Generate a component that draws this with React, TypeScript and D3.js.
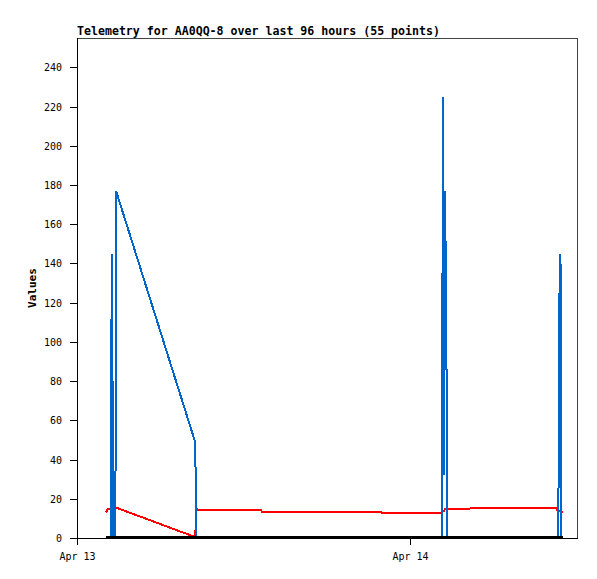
import React from "react";
import * as d3 from "d3";

const TITLE = "Telemetry for AA0QQ-8 over last 96 hours (55 points)";
const Y_LABEL = "Values";

const times: string[] = [
  "2024-04-13T02:05", "2024-04-13T02:14", "2024-04-13T02:27", "2024-04-13T02:30",
  "2024-04-13T02:34", "2024-04-13T02:37", "2024-04-13T02:46", "2024-04-13T02:49",
  "2024-04-13T08:31", "2024-04-13T08:34", "2024-04-13T08:37", "2024-04-13T08:41",
  "2024-04-13T13:16", "2024-04-13T13:20", "2024-04-13T21:55", "2024-04-13T21:59",
  "2024-04-14T02:17", "2024-04-14T02:20", "2024-04-14T02:24", "2024-04-14T02:28",
  "2024-04-14T02:32", "2024-04-14T02:38", "2024-04-14T02:41", "2024-04-14T10:34",
  "2024-04-14T10:38", "2024-04-14T10:42", "2024-04-14T10:44", "2024-04-14T10:51",
  "2024-04-14T10:53", "2024-04-14T11:02",
];

const blueValues: number[] = [
  0, 0, 0, 145, 73, 0, 0, 177, 49, 24.5, 0, 0, 0, 0, 0,
  0, 0, 112, 225, 32, 177, 88, 0, 0, 0, 0, 112, 145, 0, 0,
];

const redValues: number[] = [
  13, 14.8, 15, 15, 15.2, 15.2, 15.3, 15.5, 0.5, 7.6, 15, 14.2, 14.2, 13.3, 13.3,
  12.8, 12.8, 13.2, 13.6, 14, 14.8, 15, 15, 15.2, 13.8, 13.8, 13.6, 13.5, 13.5, 13.3,
];

const blackValues: number[] = times.map(() => 0);

const yTicks: number[] = [0, 20, 40, 60, 80, 100, 120, 140, 160, 180, 200, 220, 240];
const xTickDates: string[] = ["2024-04-13T00:00", "2024-04-14T00:00"];
const xTickLabels: string[] = ["Apr 13", "Apr 14"];

const W = 597;
const H = 579;
const L = 77, R = 577, T = 38, B = 538;

export default function App() {
  const parse = (s: string) => new Date(s);
  const start = parse("2024-04-13T00:00");
  const end = new Date(start.getTime() + 36.04 * 3600 * 1000);
  const x = d3.scaleTime().domain([start, end]).range([L, R]);
  const y = d3.scaleLinear().domain([0, 255]).range([B, T]);

  const mk = (vals: number[]) =>
    d3
      .line<number>()
      .x((_, i) => x(parse(times[i])))
      .y((v) => y(v))(vals) as string;

  const mono = "'DejaVu Sans Mono', 'Liberation Mono', monospace";

  return (
    <div style={{ position: "absolute", left: 0, top: 0 }}>
      <svg width={W} height={H} style={{ display: "block", background: "#fff" }}>
        <rect x={0} y={0} width={W} height={H} fill="#fff" />
        {/* frame */}
        <rect x={L + 0.5} y={T + 0.5} width={R - L} height={B - T} fill="none" stroke="#444" strokeWidth={1} shapeRendering="crispEdges" />
        {/* title */}
        <text x={L} y={35} fontFamily={mono} fontWeight="bold" fontSize={11.6} fill="#000">
          {TITLE}
        </text>
        {/* y label */}
        <text
          transform={`translate(35.5, ${(T + B) / 2}) rotate(-90)`}
          textAnchor="middle"
          fontFamily={mono}
          fontWeight="bold"
          fontSize={11}
          fill="#000"
        >
          {Y_LABEL}
        </text>
        {/* y ticks */}
        {yTicks.map((t) => (
          <g key={t}>
            <line x1={70} x2={L} y1={Math.round(y(t)) + 0.5} y2={Math.round(y(t)) + 0.5} stroke="#000" shapeRendering="crispEdges" />
            <text x={62} y={Math.round(y(t)) + 4} textAnchor="end" fontFamily={mono} fontSize={10} fill="#000">
              {t}
            </text>
          </g>
        ))}
        {/* x ticks */}
        {xTickDates.map((d, i) => {
          const px = Math.round(x(parse(d)));
          return (
            <g key={d}>
              <line x1={px + 0.5} x2={px + 0.5} y1={B} y2={B + 7} stroke="#000" shapeRendering="crispEdges" />
              <text x={px + 0.5} y={560} textAnchor="middle" fontFamily={mono} fontSize={10} fill="#000">
                {xTickLabels[i]}
              </text>
            </g>
          );
        })}
        {/* series */}
        <path d={mk(redValues)} fill="none" stroke="#ff0000" strokeWidth={2} shapeRendering="crispEdges" />
        <path d={mk(blueValues)} fill="none" stroke="#0066cc" strokeWidth={2} shapeRendering="crispEdges" />
        <path d={mk(blackValues)} transform="translate(0,-1)" fill="none" stroke="#000" strokeWidth={2} shapeRendering="crispEdges" />
        {/* axes */}
        <line x1={L + 0.5} x2={L + 0.5} y1={T} y2={B + 4} stroke="#000" shapeRendering="crispEdges" />
        <line x1={70} x2={R + 1} y1={B + 0.5} y2={B + 0.5} stroke="#000" shapeRendering="crispEdges" />
      </svg>
    </div>
  );
}
